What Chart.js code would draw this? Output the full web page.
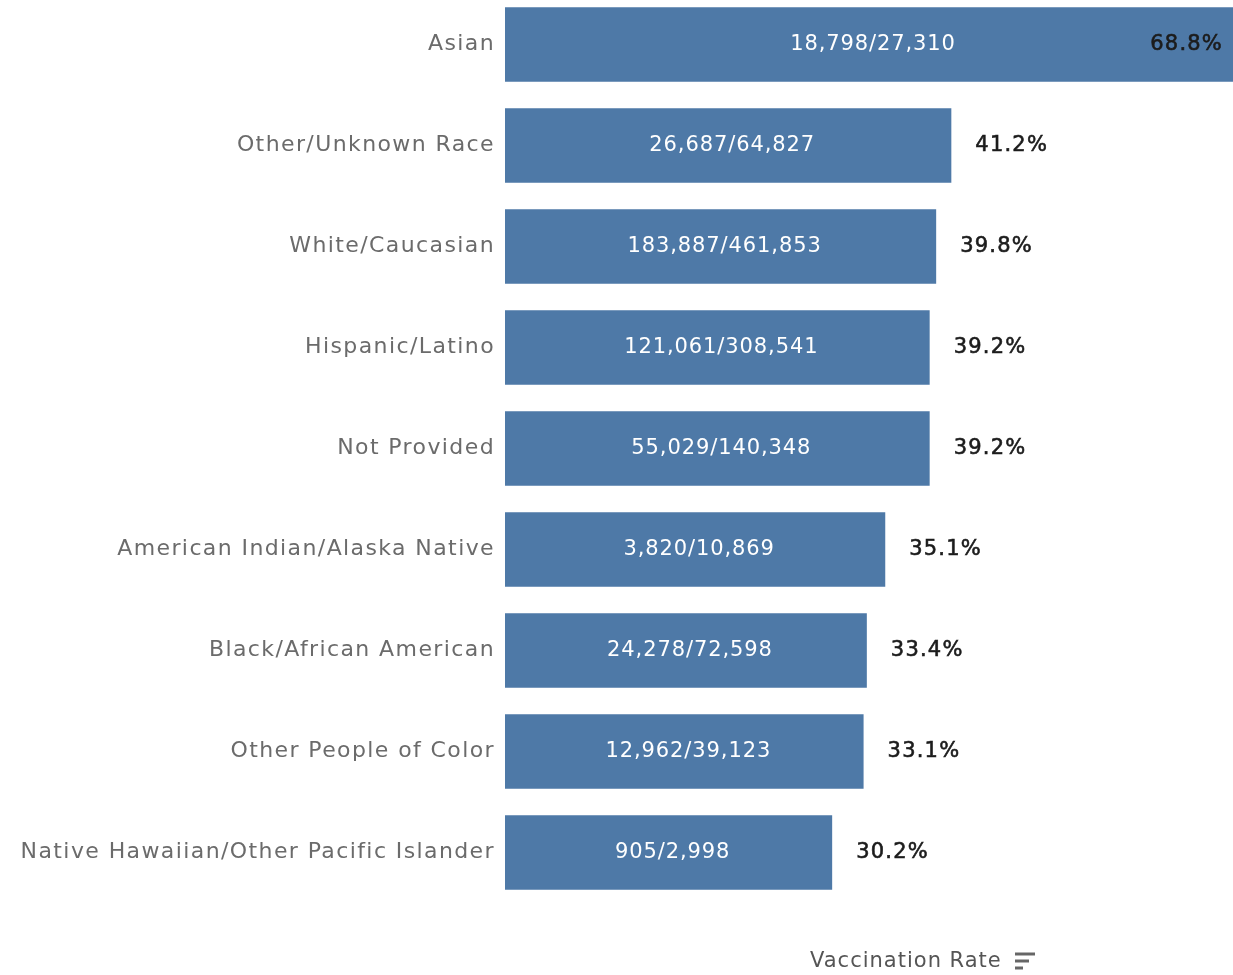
<!DOCTYPE html>
<html>
<head>
<meta charset="utf-8">
<script src="https://cdn.jsdelivr.net/npm/chart.js@4"></script>
<style>
  html, body { margin: 0; padding: 0; background: #fff; overflow: hidden; }
  #wrap { position: absolute; left: 0; top: -6px; width: 1233px; height: 981px; }
</style>
</head>
<body>
<div id="wrap"><canvas id="rate-canvas"></canvas></div>
<script>
// race / ethnicity groups, sorted by vaccination rate
const categories = [
  "Asian",
  "Other/Unknown Race",
  "White/Caucasian",
  "Hispanic/Latino",
  "Not Provided",
  "American Indian/Alaska Native",
  "Black/African American",
  "Other People of Color",
  "Native Hawaiian/Other Pacific Islander"
];
const vaccinated = ["18,798", "26,687", "183,887", "121,061", "55,029", "3,820", "24,278", "12,962", "905"];
const population = ["27,310", "64,827", "461,853", "308,541", "140,348", "10,869", "72,598", "39,123", "2,998"];
const rates = [68.8, 41.2, 39.8, 39.2, 39.2, 35.1, 33.4, 33.1, 30.2];
const axisTitle = "Vaccination Rate";

const FONT = "'DejaVu Sans', sans-serif";

// wider tracking for the category labels (tableau font is roomy)
const tracking = {
  id: "tracking",
  beforeDraw(chart) { chart.ctx.letterSpacing = "1.4px"; },
  afterDraw(chart) { chart.ctx.letterSpacing = "0px"; }
};

// ratio inside the bar, rate to its right (inside when the bar runs off the edge)
const barLabels = {
  id: "barLabels",
  afterDatasetsDraw(chart) {
    const { ctx, chartArea } = chart;
    const bars = chart.getDatasetMeta(0).data;
    ctx.save();
    ctx.textBaseline = "middle";
    bars.forEach((bar, i) => {
      const right = Math.min(bar.x, chartArea.right);
      const cx = (bar.base + right) / 2;
      ctx.letterSpacing = "0.9px";
      ctx.font = `21px ${FONT}`;
      ctx.fillStyle = "#ffffff";
      ctx.textAlign = "center";
      ctx.fillText(`${vaccinated[i]}/${population[i]}`, cx + 4, bar.y);

      // rate label, a touch heavier
      ctx.letterSpacing = "1.2px";
      ctx.fillStyle = "#1c1c1c";
      ctx.strokeStyle = "#1c1c1c";
      ctx.lineWidth = 0.6;
      const txt = `${rates[i].toFixed(1)}%`;
      let tx = bar.x + 24;
      if (bar.x > chartArea.right - 20) {
        ctx.textAlign = "right";
        tx = chartArea.right - 10;
      } else {
        ctx.textAlign = "left";
      }
      ctx.fillText(txt, tx, bar.y);
      ctx.strokeText(txt, tx, bar.y);
    });
    ctx.restore();
  }
};

// x axis title with the little sort glyph
const axisLabel = {
  id: "axisLabel",
  afterDraw(chart) {
    const { ctx, chartArea } = chart;
    const x = 810;
    const y = chartArea.bottom + 59;
    ctx.save();
    ctx.letterSpacing = "1px";
    ctx.font = `21px ${FONT}`;
    ctx.fillStyle = "#555555";
    ctx.textAlign = "left";
    ctx.textBaseline = "middle";
    ctx.fillText(axisTitle, x, y);
    const ix = 1015;
    ctx.strokeStyle = "#666666";
    ctx.lineWidth = 3;
    [20, 14, 8].forEach((len, k) => {
      ctx.beginPath();
      ctx.moveTo(ix, y - 8 + k * 7);
      ctx.lineTo(ix + len, y - 8 + k * 7);
      ctx.stroke();
    });
    ctx.restore();
  }
};

new Chart(document.getElementById("rate-canvas"), {
  type: "bar",
  data: {
    labels: categories,
    datasets: [{
      label: axisTitle,
      data: rates,
      backgroundColor: "#4e79a7",
      borderWidth: 0,
      categoryPercentage: 1,
      barPercentage: 0.74,
    }]
  },
  options: {
    indexAxis: "y",
    responsive: true,
    maintainAspectRatio: false,
    animation: false,
    layout: { padding: { left: 0, right: 0, top: 0, bottom: 72 } },
    plugins: {
      legend: { display: false },
      tooltip: { enabled: false },
    },
    scales: {
      x: {
        display: false,
        min: 0,
        max: 67.2,
      },
      y: {
        afterFit(scale) {
          scale.width = 505;
          scale.paddingTop = 0;
          scale.paddingBottom = 0;
        },
        grid: { display: false },
        border: { display: false },
        ticks: {
          color: "#6b6b6b",
          padding: 2,
          font: { family: "'DejaVu Sans', sans-serif", size: 22 },
        },
      }
    }
  },
  plugins: [tracking, barLabels, axisLabel],
});
</script>
</body>
</html>
